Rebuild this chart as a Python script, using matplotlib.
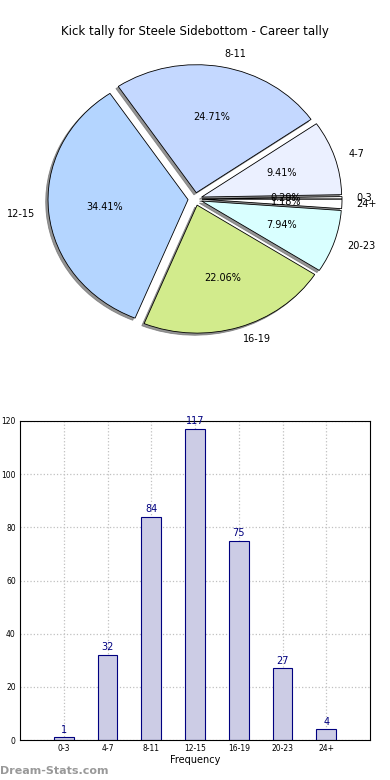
import matplotlib
matplotlib.use("Agg")
import matplotlib.pyplot as plt
import numpy as np

labels = ['0-3', '4-7', '8-11', '12-15', '16-19', '20-23', '24+']
counts = [1, 32, 84, 117, 75, 27, 4]
pie_colors = ['#FFFFFF', '#EBF0FF', '#C4D8FF', '#B4D5FF', '#D2EB8C', '#D9FFFF', '#FFFFFF']
bar_face = '#CCCCE5'
bar_edge = '#000080'
title = 'Kick tally for Steele Sidebottom - Career tally'

fig = plt.figure(figsize=(3.9, 7.8), dpi=100)

# pie, stretched like the old un-equal aspect pies
ax1 = fig.add_axes([20 / 390, 421 / 780, 350 / 390, 320 / 780])
shadow_kw = {'ox': -0.012, 'oy': -0.012, 'facecolor': '#707070',
             'edgecolor': '#707070', 'alpha': 0.75}
wedges, texts, autotexts = ax1.pie(counts, labels=labels, colors=pie_colors,
                                   explode=[0.05] * len(counts), shadow=shadow_kw,
                                   autopct='%1.2f%%', startangle=0,
                                   wedgeprops=dict(edgecolor='black', linewidth=0.6),
                                   textprops=dict(fontsize=7))
ax1.set_aspect('auto')
ax1.set_xlim(-1.25, 1.25)
ax1.set_ylim(-1.25, 1.25)
ax1.set_title(title, fontsize=8.5, pad=3)

# bars
ax2 = fig.add_axes([20 / 390, 40 / 780, 350 / 390, 319 / 780])
x = np.arange(len(labels))
ax2.bar(x, counts, width=0.45, color=bar_face, edgecolor=bar_edge, linewidth=0.8, zorder=2)
for xi, c in zip(x, counts):
    ax2.text(xi, c + 1, str(c), ha='center', va='bottom', color=bar_edge, fontsize=7)
ax2.set_xlim(-1, 7)
ax2.set_ylim(0, 120)
ax2.set_xticks(x)
ax2.set_xticklabels(labels)
ax2.set_yticks(np.arange(0, 121, 20))
ax2.tick_params(labelsize=5.5, length=0, pad=3)
ax2.grid(True, linestyle=':', color='#C0C0C0', linewidth=0.9, zorder=0)
ax2.set_axisbelow(True)
ax2.set_xlabel('Frequency', fontsize=7, labelpad=1)

fig.text(0.0, 0.005, 'Dream-Stats.com', fontsize=8, color='#999999',
         fontweight='bold', ha='left', va='bottom')

fig.savefig('out.png', dpi=100)
